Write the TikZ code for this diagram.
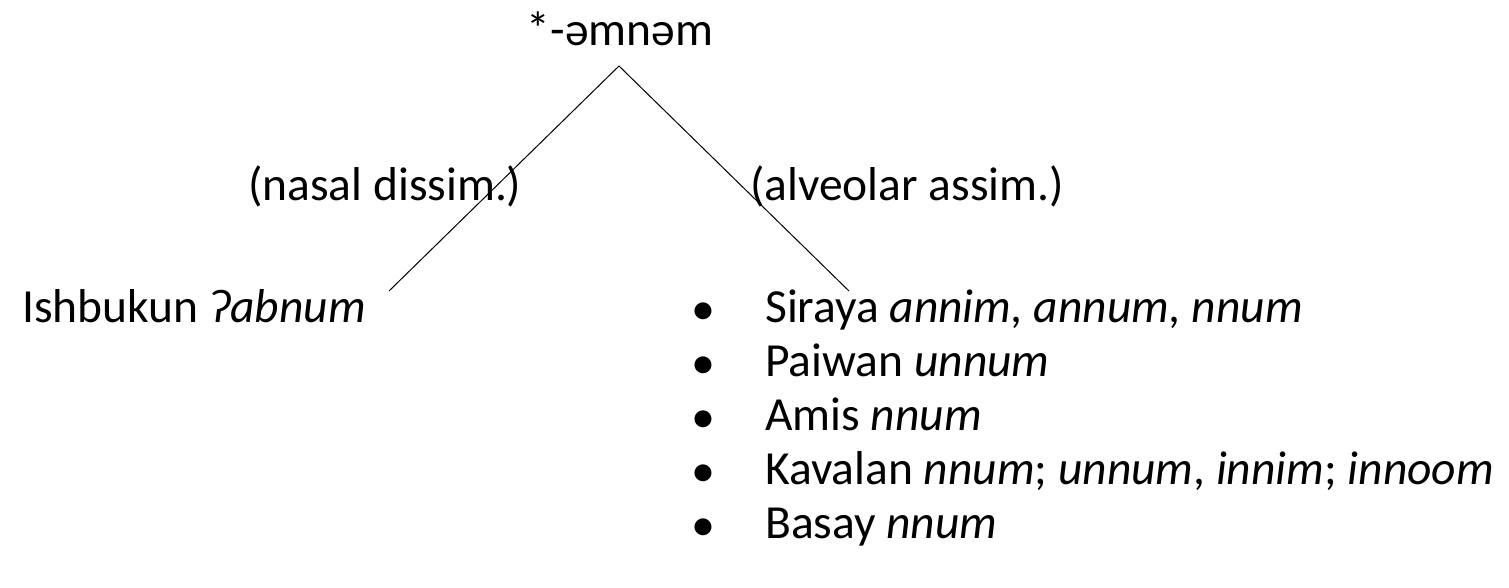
\documentclass[tikz,border=0pt]{standalone}
\usepackage{fontspec}
\setmainfont{Carlito}
\begin{document}
\begin{tikzpicture}[x=1pt,y=-1pt,
  lbl/.style={inner sep=0pt,font=\fontsize{47.5}{56}\selectfont},
  bul/.style={inner sep=0pt,font=\fontsize{40}{48}\selectfont\bfseries},
  edge/.style={draw=black,line width=1pt}]
\useasboundingbox (0,0) rectangle (1509,587);
\node[lbl,anchor=base] (root) at (620,45) {*-əmnəm};
\coordinate (apex) at (619,66);
\coordinate (lend) at (389,291);
\coordinate (rend) at (849,291);
\draw[edge] (lend) -- (apex) -- (rend);
\node[lbl,anchor=base west] (nd) at (248,200) {(nasal dissim.)};
\node[lbl,anchor=base west] (aa) at (750,200) {(alveolar assim.)};
\node[lbl,anchor=base west] (ish) at (22,322) {Ishbukun \textit{ʔabnum}};
\foreach \y/\n/\t in {322/s1/{Siraya \textit{annim, annum, nnum}},
                     376/s2/{Paiwan \textit{unnum}},
                     430/s3/{Amis \textit{nnum}},
                     484/s4/{Kavalan \textit{nnum}; \textit{unnum}, \textit{innim}; \textit{innoom}},
                     538/s5/{Basay \textit{nnum}}}{
  \node[bul,anchor=base west] (b\n) at (693,\y) {•};
  \node[lbl,anchor=base west] (\n) at (765,\y) {\t};
}
\end{tikzpicture}
\end{document}
